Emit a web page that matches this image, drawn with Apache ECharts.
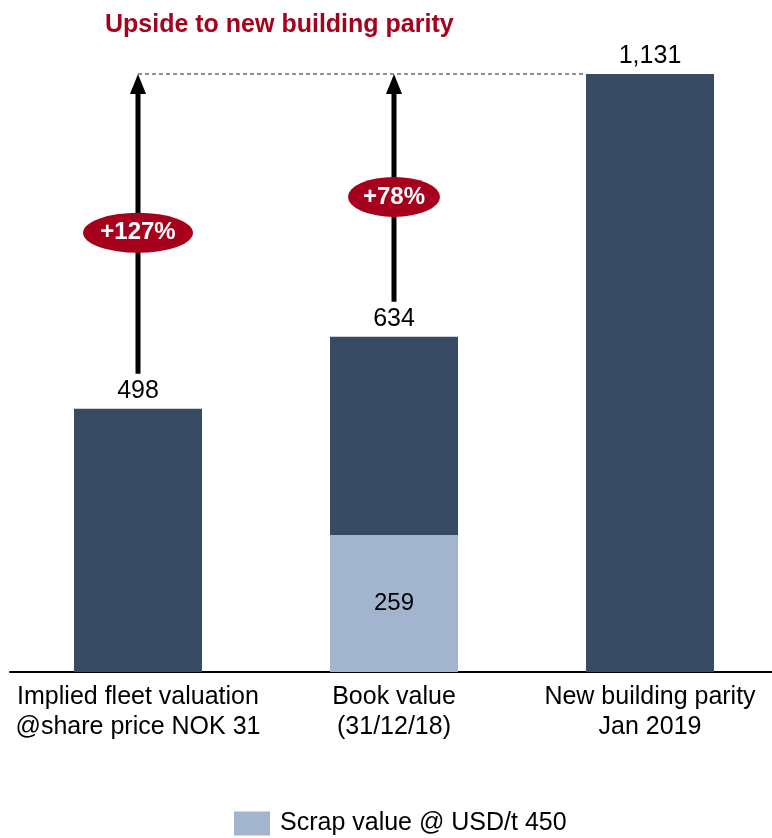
<!DOCTYPE html>
<html><head><meta charset="utf-8">
<script src="https://cdn.jsdelivr.net/npm/echarts@6/dist/echarts.min.js"></script>
<style>html,body{margin:0;padding:0;background:#fff}#c{width:772px;height:838px}</style>
</head><body><div id="c"></div>
<script>
const categories = ['Implied fleet valuation\n@share price NOK 31', 'Book value\n(31/12/18)', 'New building parity\nJan 2019'];
const totals = [498, 634, 1131];
const scrap = [null, 259, null];
const parity = 1131;
const upsideLabels = ['+127%', '+78%', null];
const titleText = 'Upside to new building parity';
const legendName = 'Scrap value @ USD/t 450';

const rest = totals.map((t, i) => t - (scrap[i] || 0));
const arrowData = totals.map((t, i) => [i, t, parity, upsideLabels[i]]).filter(d => d[3]);

const FONT = '"Liberation Sans", Arial, sans-serif';
const DARK = '#374B65';
const LIGHT = '#A3B5CE';
const RED = '#A6001C';

const chart = echarts.init(document.getElementById('c'), null, {renderer: 'canvas'});
chart.setOption({
  animation: false,
  textStyle: {fontFamily: FONT},
  title: {text: titleText, left: 100, top: 8,
    textStyle: {color: RED, fontSize: 25, fontWeight: 'bold', fontFamily: FONT}},
  legend: {data: [legendName], top: 806, left: 229, itemWidth: 36, itemHeight: 24, itemGap: 10,
    icon: 'rect', textStyle: {fontSize: 25, color: '#000', fontFamily: FONT, padding: [0, 0, 0, 5]}},
  grid: {left: 10, width: 768, top: 74, bottom: 166, outerBoundsMode: 'none', containLabel: false},
  xAxis: {type: 'category', data: categories,
    axisLine: {lineStyle: {color: '#000', width: 2}}, axisTick: {show: false},
    axisLabel: {interval: 0, fontSize: 25, color: '#000', lineHeight: 30, margin: 10, fontFamily: FONT}},
  yAxis: {type: 'value', min: 0, max: parity, show: false, splitLine: {show: false}},
  series: [
    {name: legendName, type: 'bar', stack: 's', data: scrap, barWidth: '50%',
      itemStyle: {color: LIGHT},
      label: {show: true, position: 'inside', fontSize: 24, color: '#000', fontFamily: FONT}},
    {name: 'rest', type: 'bar', stack: 's', data: rest, barWidth: '50%',
      itemStyle: {color: DARK},
      label: {show: true, position: 'top', distance: 5, fontSize: 25, color: '#000', fontFamily: FONT,
        formatter: p => totals[p.dataIndex].toLocaleString('en-US')}},
    {type: 'custom', data: [[0, parity, 2]], z: 1, silent: true,
      renderItem: (params, api) => {
        const p1 = api.coord([api.value(0), api.value(1)]);
        const p2 = api.coord([api.value(2), api.value(1)]);
        const bw = api.size([1, 0])[0];
        return {type: 'line', shape: {x1: p1[0], y1: p1[1], x2: p2[0] - bw * 0.25, y2: p2[1]},
          style: {stroke: '#222', lineWidth: 1, lineDash: [4, 3]}};
      }},
    {type: 'custom', data: arrowData, z: 5, silent: true,
      renderItem: (params, api) => {
        const b = api.coord([api.value(0), api.value(1)]);
        const t = api.coord([api.value(0), api.value(2)]);
        const x = b[0];
        const yb = b[1] - 35;
        const yt = t[1];
        const label = arrowData[params.dataIndex][3];
        const cy = (yb + yt) / 2 + 9;
        const rx = label.length > 4 ? 55 : 46;
        const ry = 20;
        return {type: 'group', children: [
          {type: 'line', shape: {x1: x, y1: yb, x2: x, y2: yt + 18}, style: {stroke: '#000', lineWidth: 5}},
          {type: 'polygon', shape: {points: [[x, yt], [x - 8, yt + 20], [x + 8, yt + 20]]}, style: {fill: '#000'}},
          {type: 'circle', x: x, y: cy, scaleX: rx / ry, shape: {cx: 0, cy: 0, r: ry}, style: {fill: RED}},
          {type: 'text', x: x, y: cy, style: {text: label, fill: '#fff', font: 'bold 24px ' + FONT,
            textAlign: 'center', textVerticalAlign: 'middle'}}
        ]};
      }}
  ]
});
</script></body></html>
